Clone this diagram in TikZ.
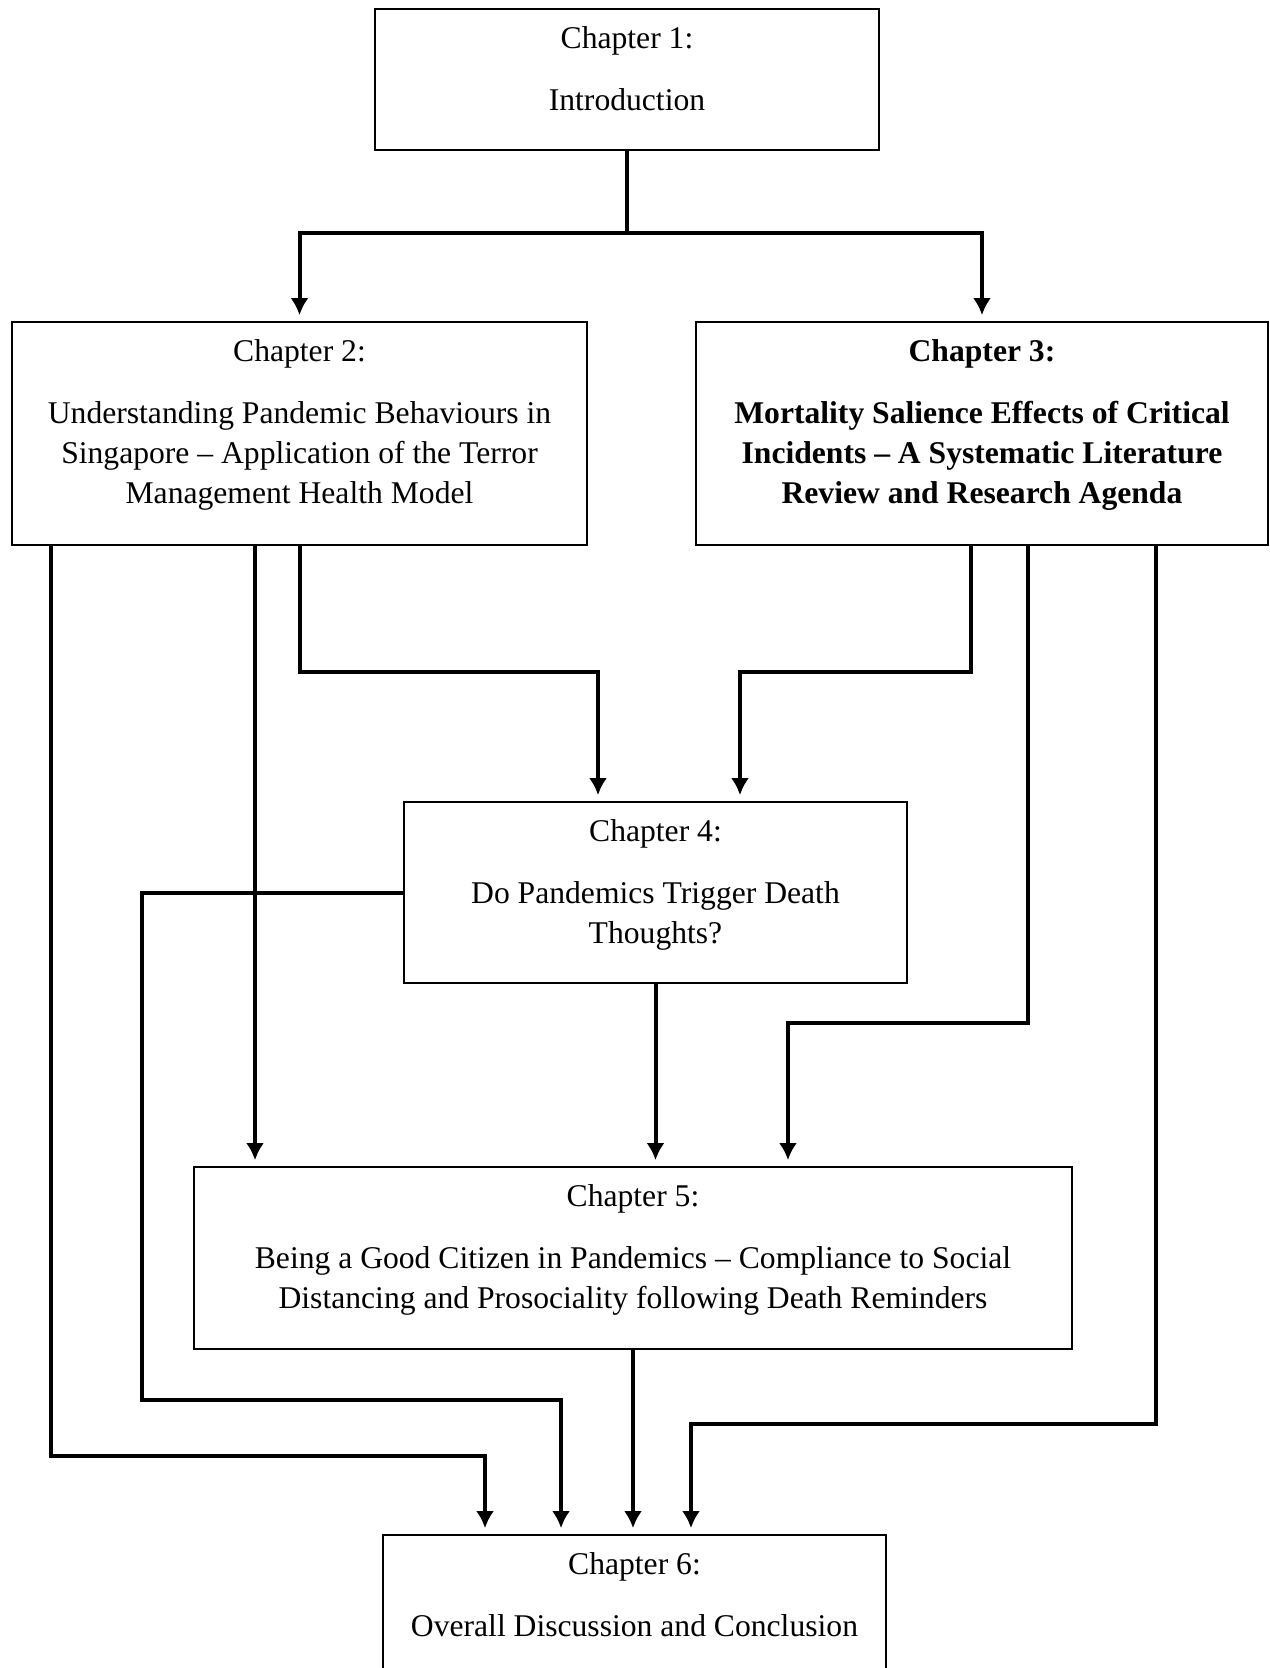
\documentclass[tikz,border=0pt]{standalone}
\usepackage{fontspec}
\setmainfont{Liberation Serif}
\usetikzlibrary{positioning,arrows.meta}
\begin{document}
\begin{tikzpicture}[x=0.02cm,y=-0.02cm,
	chbox/.style={draw=black,line width=0.035cm,inner sep=0,minimum width=#1},
	chtext/.style={anchor=north,align=center,inner sep=0,font=\fontsize{18pt}{22.7pt}\selectfont},
	link/.style={color=black,line width=0.08cm,-{Latex[length=0.34cm,width=0.36cm]},shorten >=0.12cm}]
	\clip (0,0) rectangle (1270,1668);
	\node[chbox=504*0.02cm,minimum height=141*0.02cm] (ch1) at (627,79.5) {};
	\node[chbox=575*0.02cm,minimum height=223*0.02cm] (ch2) at (299.5,433.5) {};
	\node[chbox=572*0.02cm,minimum height=223*0.02cm] (ch3) at (982,433.5) {};
	\node[chbox=503*0.02cm,minimum height=181*0.02cm] (ch4) at (655.5,892.5) {};
	\node[chbox=878*0.02cm,minimum height=182*0.02cm] (ch5) at (633,1258) {};
	\node[chbox=503*0.02cm,minimum height=200*0.02cm] (ch6) at (634.5,1635) {};
	\node[chtext,below=0.36cm of ch1.north] (t1) {Chapter 1:\\[12.5pt] Introduction};
	\node[chtext,below=0.36cm of ch2.north] (t2) {Chapter 2:\\[12.5pt] Understanding Pandemic Behaviours in\\ Singapore -- Application of the Terror\\ Management Health Model};
	\node[chtext,below=0.36cm of ch3.north,font=\fontsize{18pt}{22.7pt}\selectfont\bfseries] (t3) {Chapter 3:\\[12.5pt] Mortality Salience Effects of Critical\\ Incidents -- A Systematic Literature\\ Review and Research Agenda};
	\node[chtext,below=0.36cm of ch4.north] (t4) {Chapter 4:\\[12.5pt] Do Pandemics Trigger Death\\ Thoughts?};
	\node[chtext,below=0.36cm of ch5.north] (t5) {Chapter 5:\\[12.5pt] Being a Good Citizen in Pandemics -- Compliance to Social\\ Distancing and Prosociality following Death Reminders};
	\node[chtext,below=0.36cm of ch6.north] (t6) {Chapter 6:\\[12.5pt] Overall Discussion and Conclusion};
	\coordinate (split) at ([yshift=-1.64cm]ch1.south);
	\draw[link,-,shorten >=-0.04cm] (ch1.south) -- (split);
	\draw[link] (split) -| (ch2.north);
	\draw[link] (split) -| (ch3.north);
	\draw[link] (ch2.south) -- ++(0,126) -| ([xshift=-1.15cm]ch4.north);
	\draw[link] ([xshift=-0.22cm]ch3.south) -- ++(0,126) -| ([xshift=1.69cm]ch4.north);
	\draw[link] ([xshift=-0.89cm]ch2.south) -- ([xshift=-0.89cm]ch2.south |- ch5.north);
	\draw[link] ([xshift=0.92cm]ch3.south) -- ++(0,477) -| ([xshift=3.1cm]ch5.north);
	\draw[link] (ch4.south) -- (ch4.south |- ch5.north);
	\draw[link] ([xshift=-4.97cm]ch2.south) -- ++(0,910) -| ([xshift=-2.99cm]ch6.north);
	\draw[link] (ch4.west) -- ++(-261,0) |- ++(0,507) -| ([xshift=-1.47cm]ch6.north);
	\draw[link] (ch5.south) -- (ch5.south |- ch6.north);
	\draw[link] ([xshift=3.48cm]ch3.south) -- ++(0,878) -| ([xshift=1.13cm]ch6.north);
\end{tikzpicture}
\end{document}
